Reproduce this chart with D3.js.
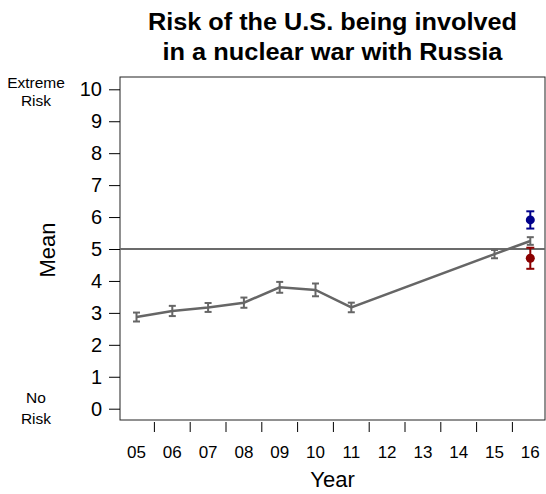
<!DOCTYPE html>
<html>
<head>
<meta charset="utf-8">
<style>
  body { margin: 0; background: #fff; }
  svg text { font-family: "Liberation Sans", Arial, sans-serif; fill: #000; }
</style>
<script src="https://cdnjs.cloudflare.com/ajax/libs/d3/7.8.5/d3.min.js"></script>
</head>
<body>
<div id="chart"></div>
<script>
// data
const years = [5, 6, 7, 8, 9, 10, 11, 15, 16];
const means = [2.87, 3.06, 3.17, 3.32, 3.80, 3.72, 3.17, 4.84, 5.25];
const errs  = [0.14, 0.16, 0.14, 0.16, 0.17, 0.20, 0.15, 0.13, 0.12];
const extraYears = [16, 16];
const extraMeans = [5.91, 4.71];
const extraErrs  = [0.27, 0.33];
const extraColors = ["#00008b", "#8b0000"];
const xTickLabels = ["05","06","07","08","09","10","11","12","13","14","15","16"];
const yTicks = [0,1,2,3,4,5,6,7,8,9,10];

const w = 546, h = 494;
const box = {left: 120, right: 545, top: 77, bottom: 420};

const svg = d3.select("#chart").append("svg")
  .attr("width", w).attr("height", h);

const x = d3.scaleLinear().domain([4.5, 16.5]).range([118.6, 548.2]);
const y = d3.scaleLinear().domain([0, 10]).range([408.7, 89.3]);

// title
svg.append("text").attr("x", 332.5).attr("y", 30).attr("text-anchor", "middle")
  .style("font-size", "23px").style("font-weight", "bold")
  .attr("textLength", 369).attr("lengthAdjust", "spacingAndGlyphs")
  .text("Risk of the U.S. being involved");
svg.append("text").attr("x", 332.5).attr("y", 60).attr("text-anchor", "middle")
  .style("font-size", "23px").style("font-weight", "bold")
  .attr("textLength", 340).attr("lengthAdjust", "spacingAndGlyphs")
  .text("in a nuclear war with Russia");

// plot box
svg.append("rect")
  .attr("x", box.left).attr("y", box.top)
  .attr("width", box.right - box.left).attr("height", box.bottom - box.top)
  .attr("fill", "none").attr("stroke", "#222").attr("stroke-width", 1);

// y axis
const yAxis = d3.axisLeft(y).tickValues(yTicks).tickSize(11).tickPadding(7);
const gy = svg.append("g").attr("transform", "translate(" + box.left + ",0)").call(yAxis);
gy.select(".domain").remove();
gy.selectAll("line").attr("stroke", "#000");
gy.selectAll("text").style("font-size", "20px").attr("font-family", null);

// x axis: ticks between years, labels at year centres
const gx = svg.append("g").attr("transform", "translate(0," + box.bottom + ")");
gx.selectAll("line").data(d3.range(5.5, 16, 1)).enter().append("line")
  .attr("x1", d => x(d)).attr("x2", d => x(d))
  .attr("y1", 2).attr("y2", 12).attr("stroke", "#000");
gx.selectAll("text").data(xTickLabels).enter().append("text")
  .attr("x", (d, i) => x(i + 5)).attr("y", 38)
  .attr("text-anchor", "middle").style("font-size", "17px")
  .text(d => d);

// axis titles
svg.append("text").attr("x", 332.5).attr("y", 487).attr("text-anchor", "middle")
  .style("font-size", "22px").text("Year");
svg.append("text").attr("transform", "translate(55,250) rotate(-90)")
  .attr("text-anchor", "middle").style("font-size", "22px").text("Mean");

// scale end labels
[["Extreme", 88], ["Risk", 106], ["No", 403], ["Risk", 424]].forEach(function(t) {
  svg.append("text").attr("x", 36).attr("y", t[1]).attr("text-anchor", "middle")
    .style("font-size", "15.5px").text(t[0]);
});

// reference line at 5
svg.append("line").attr("x1", box.left).attr("x2", box.right)
  .attr("y1", y(5)).attr("y2", y(5))
  .attr("stroke", "#6b6b6b").attr("stroke-width", 2);

// main series
const data = years.map((d, i) => ({year: d, mean: means[i], err: errs[i]}));
svg.append("path").datum(data)
  .attr("fill", "none").attr("stroke", "#666").attr("stroke-width", 2.5)
  .attr("d", d3.line().x(d => x(d.year)).y(d => y(d.mean)));

function errorBars(sel, color, cap) {
  sel.append("line")
    .attr("x1", d => x(d.year)).attr("x2", d => x(d.year))
    .attr("y1", d => y(d.mean - d.err)).attr("y2", d => y(d.mean + d.err))
    .attr("stroke", color).attr("stroke-width", 2);
  [-1, 1].forEach(function(s) {
    sel.append("line")
      .attr("x1", d => x(d.year) - cap).attr("x2", d => x(d.year) + cap)
      .attr("y1", d => y(d.mean + s * d.err)).attr("y2", d => y(d.mean + s * d.err))
      .attr("stroke", color).attr("stroke-width", 2);
  });
}

const g = svg.selectAll(".pt").data(data).enter().append("g").attr("class", "pt");
errorBars(g, "#666", 3.5);

// coloured 2016 points
const extra = extraYears.map((d, i) => ({year: d, mean: extraMeans[i], err: extraErrs[i], color: extraColors[i]}));
extra.forEach(function(d) {
  const ge = svg.append("g").datum(d);
  errorBars(ge, d.color, 4);
  ge.append("circle").attr("cx", x(d.year)).attr("cy", y(d.mean))
    .attr("r", 4.5).attr("fill", d.color);
});
</script>
</body>
</html>
